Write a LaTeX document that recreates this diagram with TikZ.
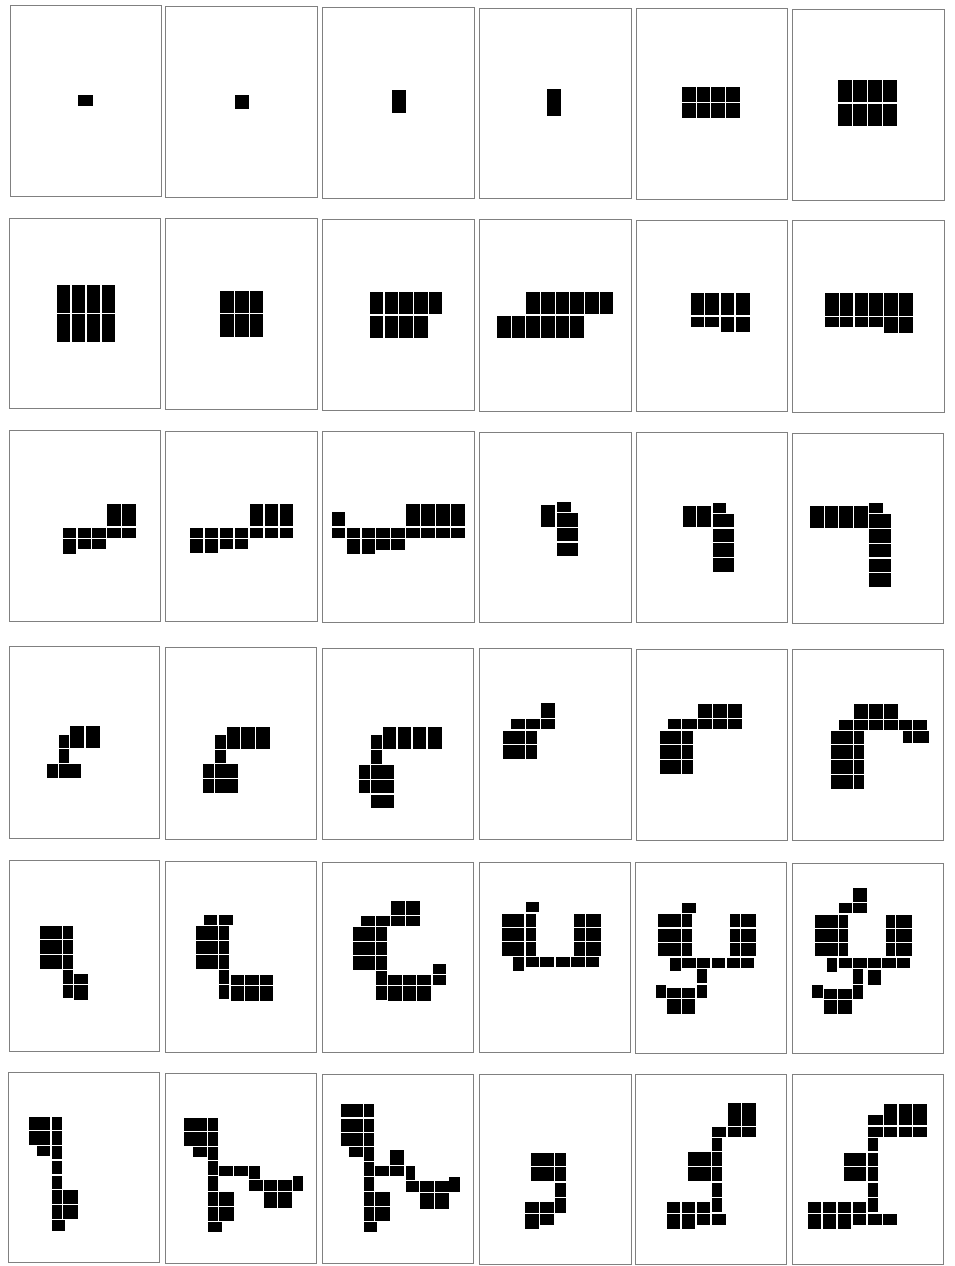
\documentclass[tikz,border=0pt]{standalone}
\begin{document}
\tikzset{frm/.style={draw=black!50,line width=0.9pt},blkstyle/.style={fill=black}}
\newcommand\blk[4]{\fill[blkstyle] (#1,#2) rectangle (#3,#4);}
\newcommand\frm[4]{\draw[frm] (#1,#2) rectangle (#3,#4);}
\begin{tikzpicture}[x=1pt,y=-1pt]
\useasboundingbox[fill=white] (0,0) rectangle (954,1266);
% ---------- Row 1 left
\begin{scope}[shift={(0,0)},scale=1/3]
\frm{30}{17}{483}{590}\frm{497}{20}{953}{592}\frm{968}{22}{1424}{595}
\blk{235}{286}{278}{318}
\blk{705}{284}{746}{328}
\blk{1175}{270}{1217}{340}
\end{scope}
% ---------- Row 1 right
\begin{scope}[shift={(477,0)},scale=1/3]
\frm{8}{24}{463}{596}\frm{478}{25}{931}{598}\frm{946}{27}{1401}{600}
\blk{211}{266}{253}{349}
\foreach \a/\c in {616/656,659/700,703/744,747/789}
 \foreach \r/\s in {262/306,309/355} {\blk{\a}{\r}{\c}{\s}}
\foreach \a/\c in {1084/1125,1128/1170,1173/1214,1218/1259}
 \foreach \r/\s in {241/307,311/378} {\blk{\a}{\r}{\c}{\s}}
\end{scope}
% ---------- Row 2 left
\begin{scope}[shift={(0,212)},scale=1/3]
\frm{29}{19}{482}{590}\frm{497}{20}{953}{593}\frm{967}{23}{1423}{596}
\foreach \a/\c in {171/211,215/256,260/301,305/346}
 \foreach \r/\s in {220/302,307/390} {\blk{\a}{\r}{\c}{\s}}
\foreach \a/\c in {660/701,705/746,750/790}
 \foreach \r/\s in {237/302,307/375} {\blk{\a}{\r}{\c}{\s}}
\foreach \a/\c in {1110/1150,1154/1195,1198/1239,1242/1283,1287/1327} {\blk{\a}{240}{\c}{307}}
\foreach \a/\c in {1110/1150,1154/1195,1198/1239,1242/1283} {\blk{\a}{311}{\c}{378}}
\end{scope}
% ---------- Row 2 right
\begin{scope}[shift={(477,212)},scale=1/3]
\frm{7}{23}{463}{598}\frm{477}{24}{931}{598}\frm{946}{26}{1401}{600}
\foreach \a/\c in {148/189,191/233,236/277,280/322,325/366,369/409} {\blk{\a}{240}{\c}{307}}
\foreach \a/\c in {61/101,104/145,148/189,191/233,236/277,280/322} {\blk{\a}{311}{\c}{378}}
\foreach \a/\c in {641/682,685/726,731/772,776/818} {\blk{\a}{243}{\c}{310}}
\foreach \a/\c in {641/682,685/726} {\blk{\a}{314}{\c}{345}}
\foreach \a/\c in {731/772,776/818} {\blk{\a}{314}{\c}{360}}
\foreach \a/\c in {1044/1085,1088/1129,1133/1174,1177/1218,1222/1263,1267/1307} {\blk{\a}{244}{\c}{311}}
\foreach \a/\c in {1044/1085,1088/1129,1133/1174,1177/1218} {\blk{\a}{315}{\c}{346}}
\foreach \a/\c in {1222/1263,1267/1307} {\blk{\a}{315}{\c}{362}}
\end{scope}
% ---------- Row 3 left
\begin{scope}[shift={(0,424)},scale=1/3]
\frm{28}{20}{481}{592}\frm{497}{22}{952}{592}\frm{968}{22}{1423}{596}
% panel 13
\foreach \a/\c in {322/363,367/408} {\blk{\a}{240}{\c}{307}}
\foreach \a/\c in {188/229,233/274,277/318,322/363,367/408} {\blk{\a}{311}{\c}{342}}
\blk{188}{345}{229}{389}
\foreach \a/\c in {233/274,277/318} {\blk{\a}{345}{\c}{376}}
% panel 14
\foreach \a/\c in {749/790,794/835,839/880} {\blk{\a}{240}{\c}{307}}
\foreach \a/\c in {570/610,614/655,659/700,704/745,749/790,794/835,839/880} {\blk{\a}{311}{\c}{342}}
\foreach \a/\c in {570/610,614/655} {\blk{\a}{345}{\c}{387}}
\foreach \a/\c in {659/700,704/745} {\blk{\a}{345}{\c}{374}}
% panel 15
\blk{996}{263}{1034}{307}
\foreach \a/\c in {1218/1259,1263/1304,1308/1349,1353/1395} {\blk{\a}{241}{\c}{307}}
\foreach \a/\c in {996/1034,1040/1081,1085/1126,1129/1170,1173/1214,1218/1259,1263/1304,1308/1349,1353/1395} {\blk{\a}{311}{\c}{342}}
\foreach \a/\c in {1040/1081,1085/1126} {\blk{\a}{345}{\c}{389}}
\foreach \a/\c in {1129/1170,1173/1214} {\blk{\a}{345}{\c}{377}}
\end{scope}
% ---------- Row 3 right
\begin{scope}[shift={(477,424)},scale=1/3]
\frm{7}{24}{462}{596}\frm{477}{25}{930}{596}\frm{945}{27}{1400}{597}
% panel 16
\blk{192}{242}{234}{308}
\blk{239}{235}{281}{263}
\foreach \r/\s in {268/308,312/352,356/397} {\blk{239}{\r}{304}{\s}}
% panel 17
\foreach \a/\c in {618/658,661/703} {\blk{\a}{245}{\c}{310}}
\blk{707}{238}{748}{266}
\foreach \r/\s in {270/310,314/355,358/399,403/443} {\blk{707}{\r}{771}{\s}}
% panel 18
\foreach \a/\c in {999/1040,1043/1084,1087/1128,1131/1172} {\blk{\a}{247}{\c}{311}}
\blk{1176}{238}{1218}{267}
\foreach \r/\s in {271/311,315/356,359/400,404/445,448/490} {\blk{1176}{\r}{1241}{\s}}
\end{scope}
% ---------- Row 4 left
\begin{scope}[shift={(0,636)},scale=1/3]
\frm{28}{32}{479}{607}\frm{496}{34}{950}{609}\frm{968}{36}{1421}{610}
% panel 19
\foreach \a/\c in {211/253,257/299} {\blk{\a}{271}{\c}{336}}
\blk{177}{296}{208}{336}
\blk{177}{339}{208}{381}
\blk{142}{384}{173}{426}
\blk{177}{384}{242}{426}
% panel 20
\foreach \a/\c in {680/721,724/765,769/811} {\blk{\a}{272}{\c}{339}}
\blk{645}{297}{677}{338}
\blk{645}{341}{677}{382}
\foreach \r/\s in {385/427,430/472} {\blk{610}{\r}{641}{\s}\blk{645}{\r}{713}{\s}}
% panel 21
\foreach \a/\c in {1148/1189,1193/1234,1238/1279,1283/1325} {\blk{\a}{272}{\c}{339}}
\blk{1113}{297}{1145}{339}
\blk{1113}{341}{1145}{383}
\foreach \r/\s in {387/428,431/472} {\blk{1078}{\r}{1109}{\s}\blk{1113}{\r}{1181}{\s}}
\blk{1113}{476}{1181}{517}
\end{scope}
% ---------- Row 4 right
\begin{scope}[shift={(477,636)},scale=1/3]
\frm{8}{38}{462}{611}\frm{477}{40}{930}{612}\frm{945}{41}{1400}{613}
% panel 22
\blk{193}{202}{234}{246}
\foreach \a/\c in {103/145,148/189,193/234} {\blk{\a}{248}{\c}{280}}
\foreach \r/\s in {284/324,327/368} {\blk{79}{\r}{145}{\s}\blk{148}{\r}{179}{\s}}
% panel 23
\foreach \a/\c in {664/705,708/749,752/794} {\blk{\a}{203}{\c}{247}}
\foreach \a/\c in {572/613,616/660,664/705,708/749,752/794} {\blk{\a}{249}{\c}{280}}
\foreach \r/\s in {284/324,327/368,371/413} {\blk{549}{\r}{613}{\s}\blk{616}{\r}{649}{\s}}
% panel 24
\foreach \a/\c in {1131/1172,1176/1217,1221/1262} {\blk{\a}{204}{\c}{248}}
\foreach \a/\c in {1085/1127,1131/1172,1176/1217,1221/1262,1266/1306,1309/1350} {\blk{\a}{251}{\c}{282}}
\blk{1277}{285}{1306}{322}
\blk{1309}{285}{1355}{322}
\foreach \r/\s in {285/324,328/369,372/413,416/458} {\blk{1062}{\r}{1128}{\s}\blk{1131}{\r}{1162}{\s}}
\end{scope}
% ---------- Row 5 left
\begin{scope}[shift={(0,850)},scale=1/3]
\frm{28}{30}{479}{604}\frm{496}{33}{950}{606}\frm{967}{36}{1421}{607}
% panel 25
\foreach \r/\s in {228/268,271/313,316/357} {\blk{120}{\r}{186}{\s}\blk{189}{\r}{220}{\s}}
\blk{189}{360}{220}{402}
\blk{223}{371}{264}{402}
\blk{189}{405}{220}{445}
\blk{223}{405}{264}{450}
% panel 26
\foreach \a/\c in {611/652,656/698} {\blk{\a}{196}{\c}{226}}
\foreach \r/\s in {229/269,273/313,316/357} {\blk{589}{\r}{655}{\s}\blk{658}{\r}{688}{\s}}
\blk{658}{361}{688}{403}
\blk{658}{406}{688}{447}
\foreach \a/\c in {692/733,736/777,779/820} {\blk{\a}{374}{\c}{404}\blk{\a}{407}{\c}{452}}
% panel 27
\foreach \a/\c in {1174/1215,1218/1259} {\blk{\a}{153}{\c}{196}}
\foreach \a/\c in {1084/1126,1129/1170,1174/1215,1218/1259} {\blk{\a}{199}{\c}{229}}
\foreach \r/\s in {232/272,275/316,319/360} {\blk{1059}{\r}{1126}{\s}\blk{1129}{\r}{1160}{\s}}
\blk{1129}{364}{1160}{405}
\blk{1129}{409}{1160}{449}
\blk{1298}{342}{1339}{372}
\foreach \a/\c in {1163/1205,1208/1249,1252/1294,1298/1339} {\blk{\a}{375}{\c}{406}}
\foreach \a/\c in {1163/1205,1208/1249,1252/1294} {\blk{\a}{409}{\c}{454}}
\end{scope}
% ---------- Row 5 right
\begin{scope}[shift={(477,850)},scale=1/3]
\frm{7}{37}{461}{607}\frm{476}{38}{929}{609}\frm{945}{39}{1399}{609}
% panel 28
\blk{147}{157}{187}{187}
\foreach \r/\s in {191/230,234/273,277/318} {\blk{74}{\r}{142}{\s}\blk{147}{\r}{177}{\s}\blk{292}{\r}{323}{\s}\blk{327}{\r}{373}{\s}}
\foreach \a/\c in {147/187,190/231,237/278,282/323,327/367} {\blk{\a}{321}{\c}{352}}
\blk{109}{321}{140}{362}
% panel 29
\blk{615}{159}{656}{188}
\foreach \r/\s in {193/232,236/275,279/319} {\blk{544}{\r}{612}{\s}\blk{615}{\r}{645}{\s}\blk{760}{\r}{790}{\s}\blk{793}{\r}{836}{\s}}
\foreach \a/\c in {615/656,659/700,705/745,749/789,793/832} {\blk{\a}{323}{\c}{354}}
\blk{580}{323}{611}{364}
\blk{659}{358}{689}{400}
\blk{659}{404}{689}{445}
\foreach \a/\c in {571/611,614/654} {\blk{\a}{415}{\c}{445}\blk{\a}{448}{\c}{492}}
\blk{537}{404}{568}{444}
% panel 30
\blk{1128}{115}{1169}{156}
\foreach \a/\c in {1085/1125,1128/1169} {\blk{\a}{159}{\c}{190}}
\foreach \r/\s in {194/233,236/276,280/319} {\blk{1015}{\r}{1082}{\s}\blk{1085}{\r}{1114}{\s}\blk{1227}{\r}{1255}{\s}\blk{1258}{\r}{1304}{\s}}
\foreach \a/\c in {1085/1125,1128/1169,1172/1213,1216/1256,1259/1299} {\blk{\a}{324}{\c}{355}}
\blk{1050}{324}{1081}{365}
\blk{1128}{358}{1157}{401}
\blk{1172}{360}{1213}{404}
\blk{1128}{404}{1157}{446}
\foreach \a/\c in {1040/1081,1084/1125} {\blk{\a}{416}{\c}{446}\blk{\a}{449}{\c}{493}}
\blk{1006}{404}{1037}{444}
\end{scope}
% ---------- Row 6 left
\begin{scope}[shift={(0,1062)},scale=1/3]
\frm{26}{32}{479}{600}\frm{496}{34}{950}{603}\frm{966}{36}{1421}{604}
% panel 31
\foreach \r/\s in {165/205,208/248} {\blk{86}{\r}{151}{\s}\blk{155}{\r}{185}{\s}}
\blk{111}{251}{151}{282}
\blk{155}{251}{185}{292}
\blk{155}{296}{185}{337}
\blk{155}{341}{185}{382}
\foreach \r/\s in {385/426,429/472} {\blk{155}{\r}{185}{\s}\blk{189}{\r}{234}{\s}}
\blk{155}{475}{196}{506}
% panel 32
\foreach \r/\s in {168/208,211/251} {\blk{553}{\r}{620}{\s}\blk{624}{\r}{655}{\s}}
\blk{578}{254}{620}{284}
\blk{624}{254}{655}{295}
\blk{624}{298}{655}{339}
\blk{624}{342}{655}{386}
\foreach \a/\c in {658/700,703/743} {\blk{\a}{311}{\c}{341}}
\blk{747}{311}{779}{352}
\foreach \a/\c in {747/788,791/832,835/876} {\blk{\a}{355}{\c}{387}}
\blk{879}{342}{910}{387}
\foreach \a/\c in {791/832,835/876} {\blk{\a}{390}{\c}{438}}
\foreach \r/\s in {389/431,434/476} {\blk{624}{\r}{655}{\s}\blk{658}{\r}{703}{\s}}
\blk{624}{479}{665}{509}
% panel 33
\foreach \r/\s in {126/166,170/209,212/252} {\blk{1022}{\r}{1088}{\s}\blk{1091}{\r}{1121}{\s}}
\blk{1046}{255}{1088}{286}
\blk{1091}{255}{1121}{296}
\blk{1091}{299}{1121}{341}
\blk{1091}{344}{1121}{387}
\foreach \a/\c in {1124/1167,1171/1213} {\blk{\a}{312}{\c}{343}}
\blk{1171}{265}{1213}{308}
\blk{1217}{312}{1246}{355}
\foreach \a/\c in {1217/1258,1261/1302,1305/1346} {\blk{\a}{358}{\c}{390}}
\blk{1348}{344}{1380}{390}
\foreach \a/\c in {1261/1302,1305/1346} {\blk{\a}{393}{\c}{440}}
\foreach \r/\s in {390/431,434/478} {\blk{1091}{\r}{1121}{\s}\blk{1124}{\r}{1169}{\s}}
\blk{1091}{481}{1132}{510}
\end{scope}
% ---------- Row 6 right
\begin{scope}[shift={(477,1062)},scale=1/3]
\frm{7}{37}{462}{607}\frm{475}{38}{928}{607}\frm{945}{38}{1398}{607}
% panel 34
\foreach \r/\s in {272/312,316/358} {\blk{163}{\r}{231}{\s}\blk{235}{\r}{266}{\s}}
\blk{235}{362}{266}{406}
\blk{235}{409}{266}{452}
\foreach \a/\c in {145/186,189/231} {\blk{\a}{421}{\c}{452}}
\blk{145}{455}{186}{500}
\blk{189}{455}{231}{489}
% panel 35
\foreach \a/\c in {752/793,796/838} {\blk{\a}{123}{\c}{192}}
\foreach \a/\c in {705/748,752/793,796/838} {\blk{\a}{194}{\c}{224}}
\foreach \r/\s in {228/268,271/313,316/358,362/404,407/451} {\blk{705}{\r}{736}{\s}}
\foreach \r/\s in {271/313,316/358} {\blk{634}{\r}{701}{\s}}
\foreach \a/\c in {570/610,614/655,659/700} {\blk{\a}{421}{\c}{452}}
\foreach \a/\c in {570/610,614/655} {\blk{\a}{455}{\c}{500}}
\foreach \a/\c in {659/700,705/748} {\blk{\a}{455}{\c}{488}}
% panel 36
\foreach \a/\c in {1221/1261,1265/1306,1309/1351} {\blk{\a}{125}{\c}{190}}
\blk{1173}{158}{1217}{190}
\foreach \a/\c in {1173/1217,1221/1261,1265/1306,1309/1351} {\blk{\a}{194}{\c}{226}}
\foreach \r/\s in {229/268,272/312,316/358,362/404,407/450} {\blk{1173}{\r}{1204}{\s}}
\foreach \r/\s in {272/312,316/358} {\blk{1102}{\r}{1168}{\s}}
\foreach \a/\c in {993/1033,1037/1078,1082/1123,1127/1168} {\blk{\a}{421}{\c}{452}}
\foreach \a/\c in {993/1033,1037/1078,1082/1123} {\blk{\a}{456}{\c}{500}}
\foreach \a/\c in {1127/1168,1172/1215,1217/1261} {\blk{\a}{456}{\c}{488}}
\end{scope}
\end{tikzpicture}
\end{document}
